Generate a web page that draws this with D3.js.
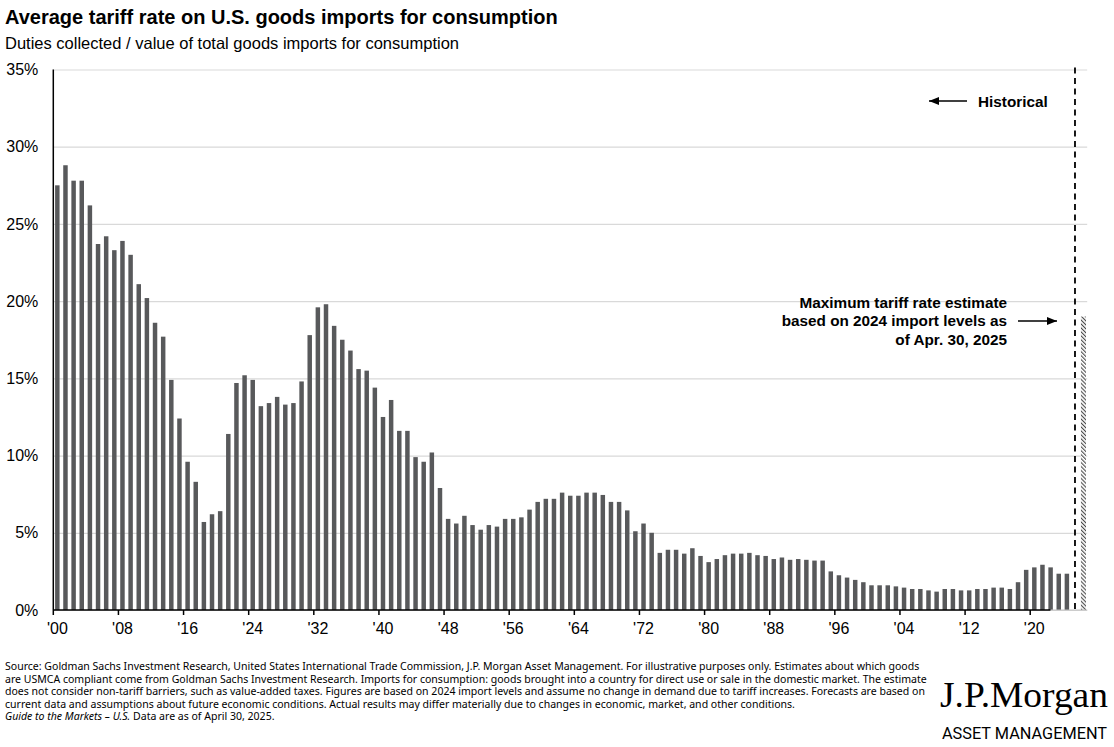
<!DOCTYPE html>
<html>
<head>
<meta charset="utf-8">
<script src="https://cdn.jsdelivr.net/npm/d3@7"></script>
<style>
  html, body { margin: 0; padding: 0; background: #fff; }
  svg { display: block; }
</style>
</head>
<body>
<svg id="chart" width="1114" height="747"></svg>
<script>
const years = d3.range(1900, 2025);
const tariffRates = [
  27.5, 28.8, 27.8, 27.8, 26.2, 23.7, 24.2, 23.3, 23.9, 23.0,
  21.1, 20.2, 18.6, 17.7, 14.9, 12.4, 9.6, 8.3, 5.7, 6.2,
  6.4, 11.4, 14.7, 15.2, 14.9, 13.2, 13.4, 13.8, 13.3, 13.4,
  14.8, 17.8, 19.6, 19.8, 18.4, 17.5, 16.8, 15.6, 15.5, 14.4,
  12.5, 13.6, 11.6, 11.6, 9.9, 9.6, 10.2, 7.9, 5.9, 5.6,
  6.1, 5.5, 5.2, 5.5, 5.4, 5.9, 5.9, 6.0, 6.5, 7.0,
  7.2, 7.2, 7.6, 7.4, 7.4, 7.6, 7.6, 7.45, 7.0, 7.0,
  6.45, 5.1, 5.6, 5.0, 3.7, 3.9, 3.9, 3.65, 4.0, 3.5,
  3.1, 3.3, 3.55, 3.65, 3.65, 3.7, 3.55, 3.5, 3.3, 3.4,
  3.25, 3.3, 3.25, 3.2, 3.2, 2.5, 2.25, 2.1, 1.95, 1.8,
  1.6, 1.6, 1.6, 1.53, 1.45, 1.36, 1.36, 1.27, 1.19, 1.36,
  1.36, 1.27, 1.27, 1.36, 1.36, 1.45, 1.45, 1.36, 1.8, 2.6,
  2.76, 2.93, 2.76, 2.35, 2.35
];
const estimateValue = 19.0;              // maximum tariff rate estimate (Apr. 30, 2025)
const categories = years.map(String).concat(["gap", "est"]);
const tickYears = d3.range(1900, 2025, 8);
const yTicks = [0, 5, 10, 15, 20, 25, 30, 35];

const title = "Average tariff rate on U.S. goods imports for consumption";
const subtitle = "Duties collected / value of total goods imports for consumption";
const footerLines = [
  "Source: Goldman Sachs Investment Research, United States International Trade Commission, J.P. Morgan Asset Management. For illustrative purposes only. Estimates about which goods",
  "are USMCA compliant come from Goldman Sachs Investment Research. Imports for consumption: goods brought into a country for direct use or sale in the domestic market. The estimate",
  "does not consider non-tariff barriers, such as value-added taxes. Figures are based on 2024 import levels and assume no change in demand due to tariff increases. Forecasts are based on",
  "current data and assumptions about future economic conditions. Actual results may differ materially due to changes in economic, market, and other conditions."
];

(function draw() {
const svg = d3.select("#chart");
const pL = 53.3, pR = 1087.2, pT = 69.5, pB = 610;

const x = d3.scaleBand().domain(categories).range([pL, pR]).paddingInner(0.45).paddingOuter(0.22);
const xb = d3.scaleBand().domain(categories).range([pL, pR]);
const y = d3.scaleLinear().domain([0, 35]).range([pB, pT]);

// defs: hatch pattern
const defs = svg.append("defs");
const pat = defs.append("pattern").attr("id", "hatch").attr("patternUnits", "userSpaceOnUse")
  .attr("width", 2.8).attr("height", 2.8).attr("patternTransform", "rotate(-45)");
pat.append("rect").attr("width", 2.8).attr("height", 2.8).attr("fill", "#fff");
pat.append("line").attr("x1", 0).attr("y1", 0).attr("x2", 0).attr("y2", 2.8)
  .attr("stroke", "#4a4a4a").attr("stroke-width", 2.2);
defs.append("marker").attr("id", "arrow").attr("viewBox", "0 0 10 10").attr("refX", 10).attr("refY", 5)
  .attr("markerWidth", 10).attr("markerHeight", 10).attr("markerUnits", "userSpaceOnUse").attr("orient", "auto")
  .append("path").attr("d", "M0,1 L10,5 L0,9 Z").attr("fill", "#000");

// Title
svg.append("text").attr("x", 5).attr("y", 24).attr("font-family", "Liberation Sans, Arial, sans-serif")
  .attr("font-size", 20).attr("font-weight", "bold").attr("fill", "#000").text(title);
svg.append("text").attr("x", 5).attr("y", 49).attr("font-family", "Liberation Sans, Arial, sans-serif")
  .attr("font-size", 16.5).attr("fill", "#000").text(subtitle);

// Gridlines
const yAxis = d3.axisLeft(y).tickValues(yTicks).tickFormat(d => d + "%").tickSize(-(pR - pL)).tickPadding(15);
const gy = svg.append("g").attr("transform", `translate(${pL},0)`).call(yAxis);
gy.select(".domain").remove();
gy.selectAll(".tick line").attr("stroke", "#d9d9d9").attr("stroke-width", 1.2);
gy.selectAll(".tick text").attr("font-family", "Liberation Sans, Arial, sans-serif").attr("font-size", 16).attr("fill", "#000");

// Bars
svg.append("g").selectAll("rect").data(tariffRates).join("rect")
  .attr("x", (d, i) => x(String(years[i])))
  .attr("y", d => y(d))
  .attr("width", x.bandwidth())
  .attr("height", d => y(0) - y(d))
  .attr("fill", "#58595b");

// Estimate bar (hatched)
svg.append("rect").attr("x", x("est")).attr("y", y(estimateValue))
  .attr("width", x.bandwidth() + 0.6).attr("height", y(0) - y(estimateValue)).attr("fill", "url(#hatch)");

// Dashed divider
const dashX = xb("gap") + xb.bandwidth() / 2;
svg.append("line").attr("x1", dashX).attr("x2", dashX).attr("y1", pT - 2).attr("y2", pB)
  .attr("stroke", "#000").attr("stroke-width", 1.8).attr("stroke-dasharray", "6,4.5");

// X axis
const xAxis = d3.axisBottom(xb).tickValues(tickYears.map(String)).tickSize(0).tickPadding(13)
  .tickFormat(d => "'" + d.slice(2));
const gx = svg.append("g").attr("transform", `translate(0,${pB})`).call(xAxis);
gx.select(".domain").remove();
gx.selectAll(".tick text").attr("font-family", "Liberation Sans, Arial, sans-serif").attr("font-size", 16).attr("fill", "#000");
svg.append("g").selectAll("line").data(tickYears).join("line")
  .attr("x1", d => xb(String(d))).attr("x2", d => xb(String(d)))
  .attr("y1", pB).attr("y2", pB + 5).attr("stroke", "#000").attr("stroke-width", 1.5);
svg.append("line").attr("x1", pL).attr("x2", xb("2022") + xb.bandwidth() * 0.5).attr("y1", pB).attr("y2", pB)
  .attr("stroke", "#000").attr("stroke-width", 1.5);
svg.append("line").attr("x1", xb("2022") + xb.bandwidth() * 0.5).attr("x2", pR).attr("y1", pB).attr("y2", pB)
  .attr("stroke", "#bfbfbf").attr("stroke-width", 1.2);
svg.append("line").attr("x1", pL).attr("x2", pL).attr("y1", pT).attr("y2", pB)
  .attr("stroke", "#000").attr("stroke-width", 1.5);

// Annotations
const annFont = "Liberation Sans, Arial, sans-serif";
svg.append("line").attr("x1", 967).attr("x2", 929).attr("y1", 101).attr("y2", 101)
  .attr("stroke", "#000").attr("stroke-width", 1.3).attr("marker-end", "url(#arrow)");
svg.append("text").attr("x", 978).attr("y", 106.5).attr("font-family", annFont).attr("font-size", 15.3)
  .attr("font-weight", "bold").attr("fill", "#000").text("Historical");

const noteLines = ["Maximum tariff rate estimate", "based on 2024 import levels as", "of Apr. 30, 2025"];
svg.append("g").selectAll("text").data(noteLines).join("text")
  .attr("x", 1007).attr("y", (d, i) => 307.5 + i * 18.7).attr("text-anchor", "end")
  .attr("font-family", annFont).attr("font-size", 15.3).attr("font-weight", "bold").attr("fill", "#000")
  .text(d => d);
svg.append("line").attr("x1", 1018).attr("x2", 1057).attr("y1", 321).attr("y2", 321)
  .attr("stroke", "#000").attr("stroke-width", 1.3).attr("marker-end", "url(#arrow)");

// Footer
const footFont = "Noto Sans, Open Sans, sans-serif";
const fg = svg.append("g");
const probe = fg.append("text").attr("font-family", footFont).attr("font-size", 10).text(footerLines[0]);
const w10 = probe.node().getComputedTextLength();
probe.remove();
const fs = 10 * 915 / w10;
footerLines.forEach((t, i) => {
  fg.append("text").attr("x", 5).attr("y", 670 + i * 12.6).attr("font-family", footFont)
    .attr("font-size", fs).attr("fill", "#000").text(t);
});
const last = fg.append("text").attr("x", 5).attr("y", 670 + 4 * 12.6).attr("font-family", footFont)
  .attr("font-size", fs).attr("fill", "#000");
last.append("tspan").attr("font-style", "italic").text("Guide to the Markets – U.S.");
last.append("tspan").text(" Data are as of April 30, 2025.");

// Logo
svg.append("text").attr("x", 940).attr("y", 707).attr("font-family", "Liberation Serif, DejaVu Serif, serif")
  .attr("font-size", 36).attr("fill", "#000").attr("textLength", 168).attr("lengthAdjust", "spacingAndGlyphs")
  .text("J.P.Morgan");
svg.append("text").attr("x", 942).attr("y", 739).attr("font-family", "Roboto, Liberation Sans, sans-serif")
  .attr("font-size", 17).attr("fill", "#000").attr("textLength", 165).attr("lengthAdjust", "spacingAndGlyphs")
  .text("ASSET MANAGEMENT");
})();
</script>
</body>
</html>
